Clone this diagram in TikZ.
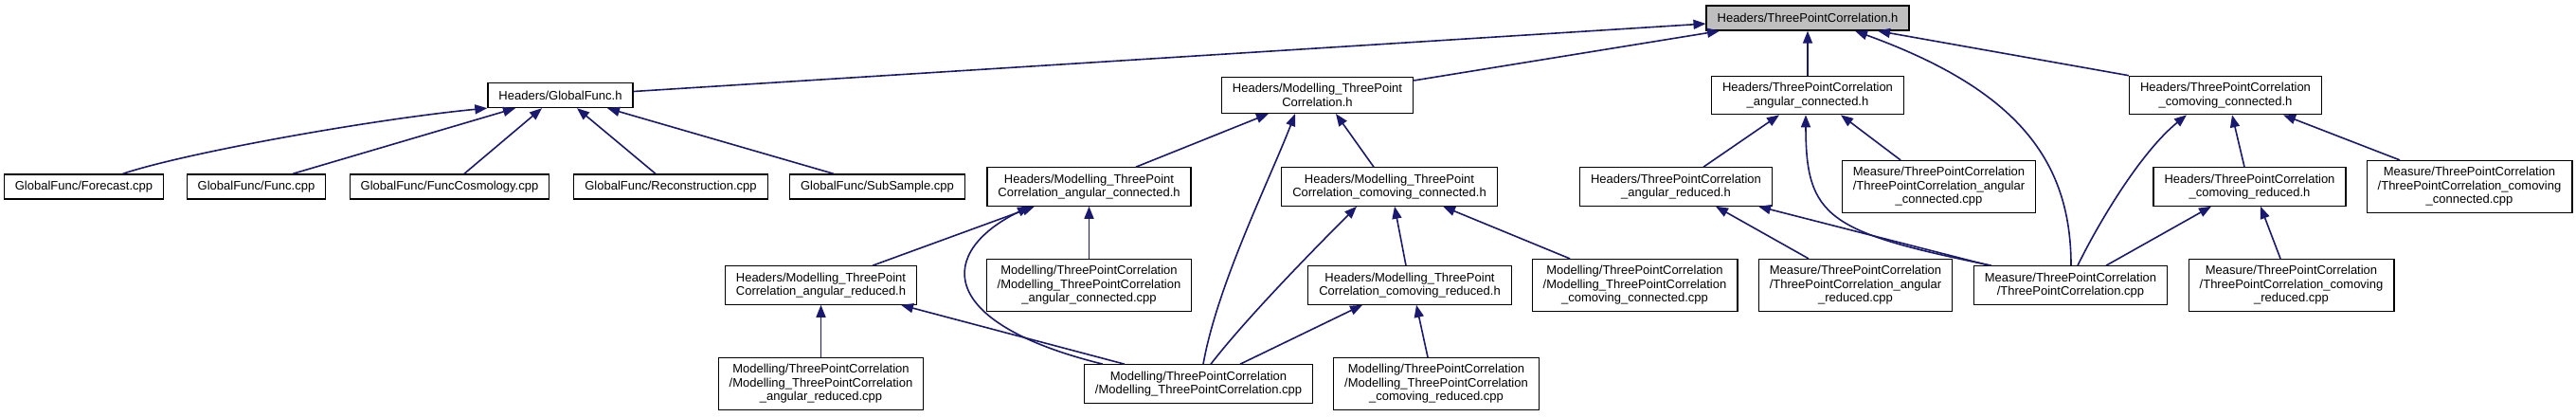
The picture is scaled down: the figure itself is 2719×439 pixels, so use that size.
\documentclass[tikz,border=0pt]{standalone}
\usepackage{fontspec}
\setmainfont{Liberation Sans}
\usetikzlibrary{arrows.meta,calc}
\definecolor{edgeblue}{HTML}{191970}

\begin{document}
\begin{tikzpicture}[
    x=0.5pt, y=-0.5pt,
    file/.style={draw=black, line width=0.65pt, fill=white, align=center, inner xsep=5.75pt, inner ysep=3.4pt, minimum height=13pt, font=\fontsize{6.5}{7.3}\selectfont},
    arr/.style={-{Triangle[length=6.5pt,width=5pt]}, edgeblue, line width=0.8pt}
]
\useasboundingbox (0,0) rectangle (2719,439);

\node[file, fill=black!25] (top) at (1908,19) {Headers/ThreePointCorrelation.h};

\node[file] (gf) at (591.5,100.5) {Headers/GlobalFunc.h};
\node[file] (mtpch) at (1390.5,100.5) {Headers/Modelling\_ThreePoint\\Correlation.h};
\node[file] (tacon) at (1908,100.5) {Headers/ThreePointCorrelation\\\_angular\_connected.h};
\node[file] (tccon) at (2349,100.5) {Headers/ThreePointCorrelation\\\_comoving\_connected.h};

\node[file] (fc) at (88.5,197) {GlobalFunc/Forecast.cpp};
\node[file] (fu) at (270.5,197) {GlobalFunc/Func.cpp};
\node[file] (fcos) at (474.5,197) {GlobalFunc/FuncCosmology.cpp};
\node[file] (rec) at (708,197) {GlobalFunc/Reconstruction.cpp};
\node[file] (sub) at (926,197) {GlobalFunc/SubSample.cpp};
\node[file] (macon) at (1149.5,197) {Headers/Modelling\_ThreePoint\\Correlation\_angular\_connected.h};
\node[file] (mccon) at (1466.5,197) {Headers/Modelling\_ThreePoint\\Correlation\_comoving\_connected.h};
\node[file] (tared) at (1769,197) {Headers/ThreePointCorrelation\\\_angular\_reduced.h};
\node[file] (meacon) at (2046.5,197) {Measure/ThreePointCorrelation\\/ThreePointCorrelation\_angular\\\_connected.cpp};
\node[file] (tcred) at (2374.5,197) {Headers/ThreePointCorrelation\\\_comoving\_reduced.h};
\node[file] (meccon) at (2606.5,197) {Measure/ThreePointCorrelation\\/ThreePointCorrelation\_comoving\\\_connected.cpp};

\node[file] (mared) at (866.5,301) {Headers/Modelling\_ThreePoint\\Correlation\_angular\_reduced.h};
\node[file] (maconcpp) at (1149.5,301) {Modelling/ThreePointCorrelation\\/Modelling\_ThreePointCorrelation\\\_angular\_connected.cpp};
\node[file] (mcred) at (1488,301) {Headers/Modelling\_ThreePoint\\Correlation\_comoving\_reduced.h};
\node[file] (mcconcpp) at (1725.5,301) {Modelling/ThreePointCorrelation\\/Modelling\_ThreePointCorrelation\\\_comoving\_connected.cpp};
\node[file] (meared) at (1958.5,301) {Measure/ThreePointCorrelation\\/ThreePointCorrelation\_angular\\\_reduced.cpp};
\node[file] (metpc) at (2185.5,301) {Measure/ThreePointCorrelation\\/ThreePointCorrelation.cpp};
\node[file] (mecred) at (2418.5,301) {Measure/ThreePointCorrelation\\/ThreePointCorrelation\_comoving\\\_reduced.cpp};

\node[file] (maredcpp) at (866.5,405) {Modelling/ThreePointCorrelation\\/Modelling\_ThreePointCorrelation\\\_angular\_reduced.cpp};
\node[file] (mtpccpp) at (1265,405) {Modelling/ThreePointCorrelation\\/Modelling\_ThreePointCorrelation.cpp};
\node[file] (mcredcpp) at (1516,405) {Modelling/ThreePointCorrelation\\/Modelling\_ThreePointCorrelation\\\_comoving\_reduced.cpp};

\draw[arr] ($(gf.east)+(0,-4)$) -- ($(top.west)+(0,6)$);
\draw[arr] ($(mtpch.north east)+(0,4)$) -- ($(top.south)+(-93,0)$);
\draw[arr] (tacon.north) -- (top.south);
\draw[arr] ($(metpc.north)+(0.5,0)$) .. controls (2186,170) and (2130,95) .. ($(top.south)+(50,0)$);
\draw[arr] (tccon.north west) -- ($(top.south)+(74,0)$);

\draw[arr] ($(fc.north)+(41,0)$) .. controls (200,160) and (400,125) .. (gf.south west);
\draw[arr] ($(fu.north)+(38.5,0)$) -- ($(gf.south)+(-47.5,0)$);
\draw[arr] ($(fcos.north)+(15.5,0)$) -- ($(gf.south)+(-19.5,0)$);
\draw[arr] ($(rec.north)+(-16,0)$) -- ($(gf.south)+(17.5,0)$);
\draw[arr] ($(sub.north)+(-46,0)$) -- ($(gf.south)+(49.5,0)$);

\draw[arr] ($(macon.north)+(49.5,0)$) -- ($(mtpch.south)+(-51.5,0)$);
\draw[arr] ($(mtpccpp.north)+(5,0)$) .. controls (1285,300) and (1340,190) .. ($(mtpch.south)+(-23.5,0)$);
\draw[arr] ($(mccon.north)+(-16.5,0)$) -- ($(mtpch.south)+(19.5,0)$);

\draw[arr] ($(mared.north)+(54.5,0)$) -- ($(macon.south)+(-57.5,0)$);
\draw[arr] ($(mtpccpp.north)+(-101,0)$) .. controls (985,340) and (990,265) .. ($(macon.south)+(-62.5,0)$);
\draw[arr] (maconcpp.north) -- (macon.south);
\draw[arr] (maredcpp.north) -- (mared.south);
\draw[arr] ($(mtpccpp.north)+(-78,0)$) -- ($(mared.south)+(84.5,0)$);

\draw[arr] ($(mtpccpp.north)+(13,0)$) .. controls (1320,330) and (1400,250) .. ($(mccon.south)+(-34.5,0)$);
\draw[arr] ($(mcred.north)+(-4,0)$) -- ($(mccon.south)+(5.5,0)$);
\draw[arr] ($(mcconcpp.north)+(-68.5,0)$) -- ($(mccon.south)+(56.5,0)$);
\draw[arr] ($(mtpccpp.north)+(44,0)$) -- ($(mcred.south)+(-50,0)$);
\draw[arr] ($(mcredcpp.north)+(-9,0)$) -- ($(mcred.south)+(7,0)$);

\draw[arr] ($(tared.north)+(29,0)$) -- ($(tacon.south)+(-30,0)$);
\draw[arr] ($(metpc.north)+(-83.5,0)$) .. controls (1930,245) and (1906,230) .. ($(tacon.south)+(-2,0)$);
\draw[arr] ($(meacon.north)+(-40.5,0)$) -- ($(tacon.south)+(35,0)$);
\draw[arr] ($(meared.north)+(-49.5,0)$) -- ($(tared.south)+(42,0)$);
\draw[arr] ($(metpc.north)+(-85.5,0)$) -- ($(tared.south)+(87,0)$);

\draw[arr] ($(metpc.north)+(7.5,0)$) .. controls (2215,235) and (2260,160) .. ($(tccon.south)+(-41,0)$);
\draw[arr] ($(tcred.north)+(-5.5,0)$) -- ($(tccon.south)+(7,0)$);
\draw[arr] ($(meccon.north)+(-73.5,0)$) -- ($(tccon.south)+(61,0)$);
\draw[arr] ($(metpc.north)+(37.5,0)$) -- ($(tcred.south)+(-40.5,0)$);
\draw[arr] ($(mecred.north)+(-11.5,0)$) -- ($(tcred.south)+(11.5,0)$);
\end{tikzpicture}
\end{document}
